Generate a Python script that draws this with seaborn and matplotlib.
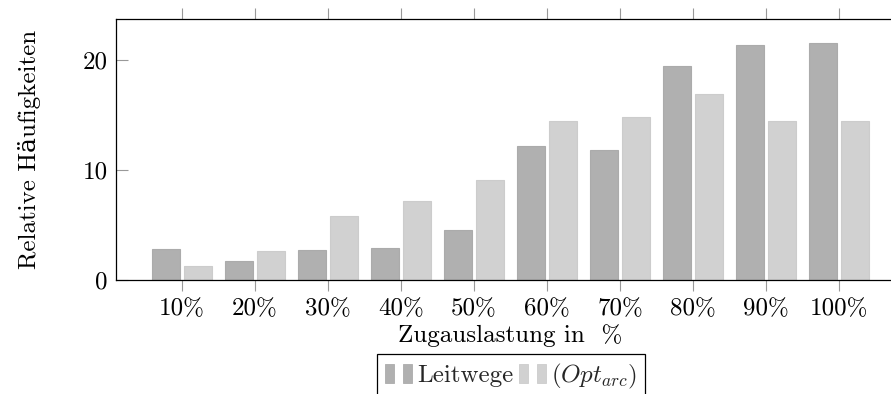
import matplotlib
matplotlib.use("Agg")
import matplotlib.pyplot as plt
import seaborn as sns
import pandas as pd
from matplotlib.patches import Rectangle, Patch
from matplotlib.legend_handler import HandlerBase

categories = ["10%", "20%", "30%", "40%", "50%", "60%", "70%", "80%", "90%", "100%"]
leitwege = [2.8, 1.7, 2.7, 2.9, 4.5, 12.2, 11.8, 19.4, 21.3, 21.5]
opt_arc = [1.3, 2.6, 5.8, 7.2, 9.1, 14.4, 14.8, 16.9, 14.4, 14.4]
series_names = ["Leitwege", r"$(Opt_{arc})$"]
y_ticks = [0, 10, 20]

sns.set_theme(style="white")
plt.rcParams["font.family"] = ["cmr10", "DejaVu Serif"]
plt.rcParams["mathtext.fontset"] = "cm"
plt.rcParams["axes.formatter.use_mathtext"] = True

df = pd.DataFrame({
    "cat": categories * 2,
    "val": leitwege + opt_arc,
    "series": [series_names[0]] * len(categories) + [series_names[1]] * len(categories),
})

fills = ["#b0b0b0", "#d1d1d1"]
edges = ["#ababab", "#cccccc"]
FS = 18

fig = plt.figure(figsize=(8.91, 3.94), dpi=100)
W, H = 891, 394
ax = fig.add_axes([116 / W, 1 - 280 / H, (905 - 116) / W, (280 - 19) / H])

sns.barplot(data=df, x="cat", y="val", hue="series", order=categories,
            hue_order=series_names, palette=fills, width=0.88, gap=0.136,
            ax=ax, legend=False, saturation=1)
for cont, ec in zip(ax.containers, edges):
    for p in cont:
        p.set_edgecolor(ec)
        p.set_linewidth(0.8)

ax.set_xlim(-0.904, 9.904)
ax.set_ylim(0, 23.7)
ax.set_yticks(y_ticks)
ax.set_yticklabels([str(t) for t in y_ticks])
ax.tick_params(axis="x", which="both", direction="out", length=8, width=0.8,
               color="#999999", top=True, bottom=True, labeltop=False,
               labelsize=FS, pad=5, labelcolor="black")
ax.tick_params(axis="y", direction="in", length=8.5, width=0.8, color="#999999",
               left=True, right=False, labelsize=FS, pad=6, labelcolor="black")
for s in ax.spines.values():
    s.set_color("black")
    s.set_linewidth(0.9)
    s.set_visible(True)

ax.set_xlabel("Zugauslastung in  %", fontsize=FS, labelpad=3, color="black")
ax.set_ylabel("Relative Häufigkeiten", fontsize=FS, labelpad=30, color="black")


class TwoBars(HandlerBase):
    def create_artists(self, legend, orig_handle, xdescent, ydescent, width,
                       height, fontsize, trans):
        fc = orig_handle.get_facecolor()
        ec = orig_handle.get_edgecolor()
        bw = width * 0.34
        h = height * 1.1
        y0 = -ydescent - height * 0.05
        r1 = Rectangle((-xdescent, y0), bw, h, facecolor=fc, edgecolor=ec,
                       lw=0.6, transform=trans)
        r2 = Rectangle((-xdescent + width - bw, y0), bw, h, facecolor=fc,
                       edgecolor=ec, lw=0.6, transform=trans)
        return [r1, r2]


handles = [Patch(facecolor=f, edgecolor=e) for f, e in zip(fills, edges)]
leg = fig.legend(handles, series_names, loc="upper center",
                 bbox_to_anchor=(511 / W, 1 - 354 / H), ncol=2, fontsize=FS,
                 frameon=True, fancybox=False, edgecolor="black", framealpha=1,
                 handlelength=1.1, handletextpad=0.2, columnspacing=0.2,
                 borderpad=0.3, borderaxespad=0,
                 handler_map={Patch: TwoBars()})
leg.get_frame().set_linewidth(0.9)

fig.savefig("out.png", dpi=100)
